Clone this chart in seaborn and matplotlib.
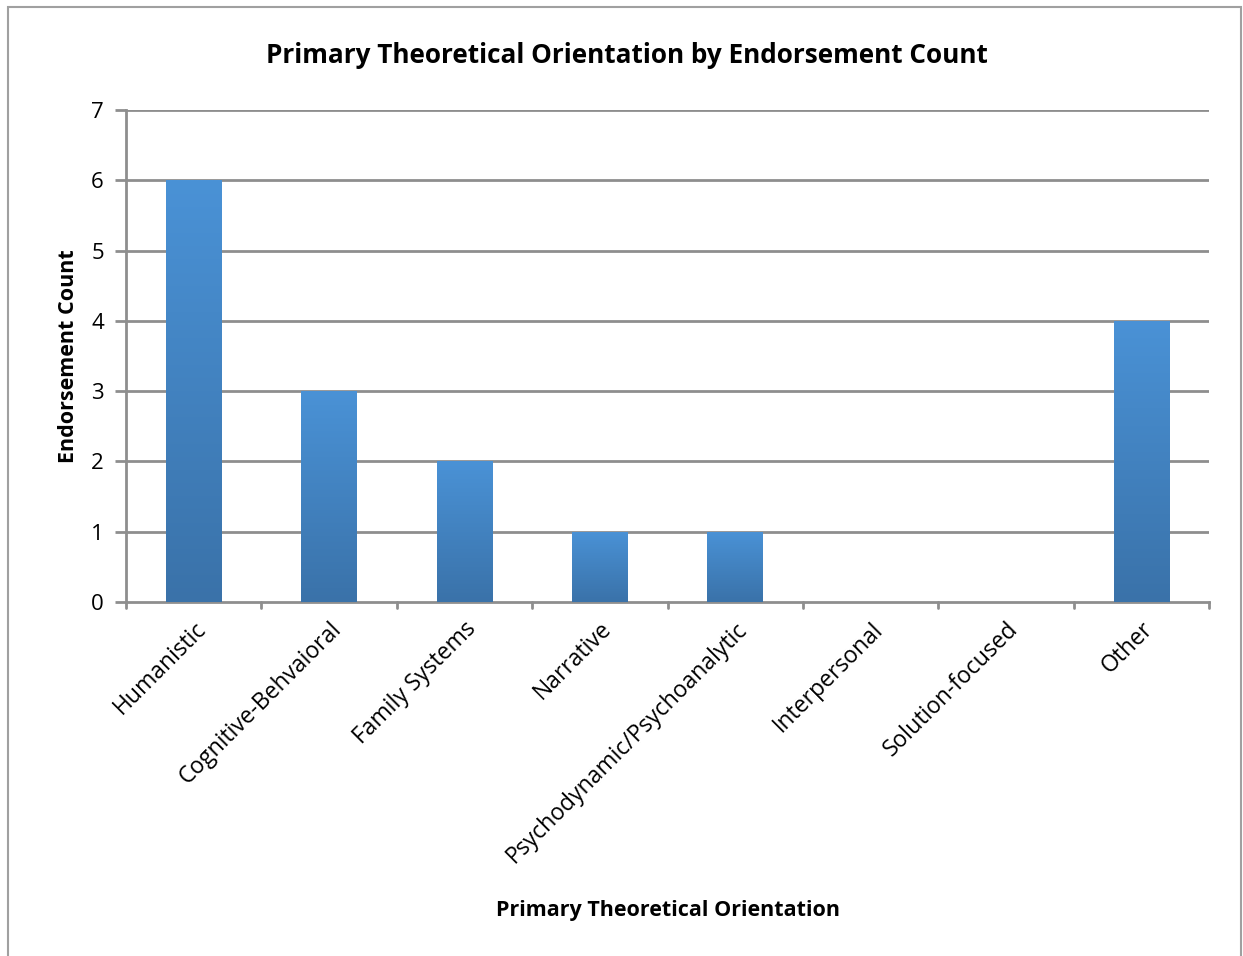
"""
Primary theoretical orientation bar chart (Excel-style gradient bars).
"""

import numpy as np
import pandas as pd
import matplotlib
matplotlib.use("Agg")
import matplotlib.pyplot as plt
from matplotlib.patches import Rectangle
import seaborn as sns

# Data
orientations = [
    "Humanistic", "Cognitive-Behvaioral", "Family Systems", "Narrative",
    "Psychodynamic/Psychoanalytic", "Interpersonal", "Solution-focused", "Other",
]
counts = [6, 3, 2, 1, 1, 0, 0, 4]

title = "Primary Theoretical Orientation by Endorsement Count"
x_label = "Primary Theoretical Orientation"
y_label = "Endorsement Count"

df = pd.DataFrame({"orientation": orientations, "count": counts})

sns.set_style("white")
plt.rcParams["font.family"] = ["Open Sans", "DejaVu Sans"]
plt.rcParams["text.color"] = "black"
plt.rcParams["axes.labelcolor"] = "black"
plt.rcParams["xtick.color"] = "black"
plt.rcParams["ytick.color"] = "black"

fig = plt.figure(figsize=(12.43, 9.56), dpi=100)
ax = fig.add_axes([0.1014, 0.3703, 0.8713, 0.5146])

grid_color = "#8e8e8e"

sns.barplot(data=df, x="orientation", y="count", color="#4a8fd3",
            width=0.41, linewidth=0, edgecolor="none", ax=ax, zorder=3)

# vertical gradient inside each bar
grad = np.linspace(0, 1, 256).reshape(-1, 1)
cmap = matplotlib.colors.LinearSegmentedColormap.from_list(
    "bar", ["#3a72a9", "#4a92d6"])
for patch in ax.patches:
    x0, y0 = patch.get_x(), patch.get_y()
    w, h = patch.get_width(), patch.get_height()
    if h <= 0:
        patch.set_visible(False)
        continue
    im = ax.imshow(grad, cmap=cmap, origin="lower", aspect="auto",
                   extent=[x0, x0 + w, y0, y0 + h], zorder=4)
    im.set_clip_path(patch)

ax.set_xlim(-0.5, len(orientations) - 0.5)
ax.set_ylim(0, 7)
ax.set_yticks(range(0, 8))

# gridlines
for v in range(1, 8):
    ax.axhline(v, color=grid_color, lw=2, zorder=1)

for side in ["top", "right"]:
    ax.spines[side].set_visible(False)
for side in ["left", "bottom"]:
    ax.spines[side].set_color(grid_color)
    ax.spines[side].set_linewidth(2)

# category boundary ticks on x axis
ax.set_xticks(np.arange(len(orientations)))
ax.set_xticklabels(orientations, rotation=45, ha="right",
                   rotation_mode="anchor", fontsize=16.5)
ax.tick_params(axis="x", length=0, pad=11)
for b in np.arange(-0.5, len(orientations), 1.0):
    ax.plot([b, b], [0, -0.09], color=grid_color, lw=2, clip_on=False,
            zorder=2)

ax.tick_params(axis="y", length=8, width=2, color=grid_color,
               labelsize=16, pad=8, left=True, labelcolor="black")

ax.set_xlabel(x_label, fontsize=15.5, fontweight="bold", labelpad=0)
ax.xaxis.set_label_coords(0.5, -0.605)
ax.set_ylabel(y_label, fontsize=15.5, fontweight="bold", labelpad=9)

fig.text(0.504, 0.942, title, ha="center", va="center",
         fontsize=18.8, fontweight="bold")

# outer chart border
fig.patches.append(Rectangle((8 / 1243, -0.05), 1233 / 1243, 1.05 - 7 / 956,
                             transform=fig.transFigure, fill=False,
                             edgecolor="#a0a0a0", lw=1.5))

fig.savefig("out.png", dpi=100)
